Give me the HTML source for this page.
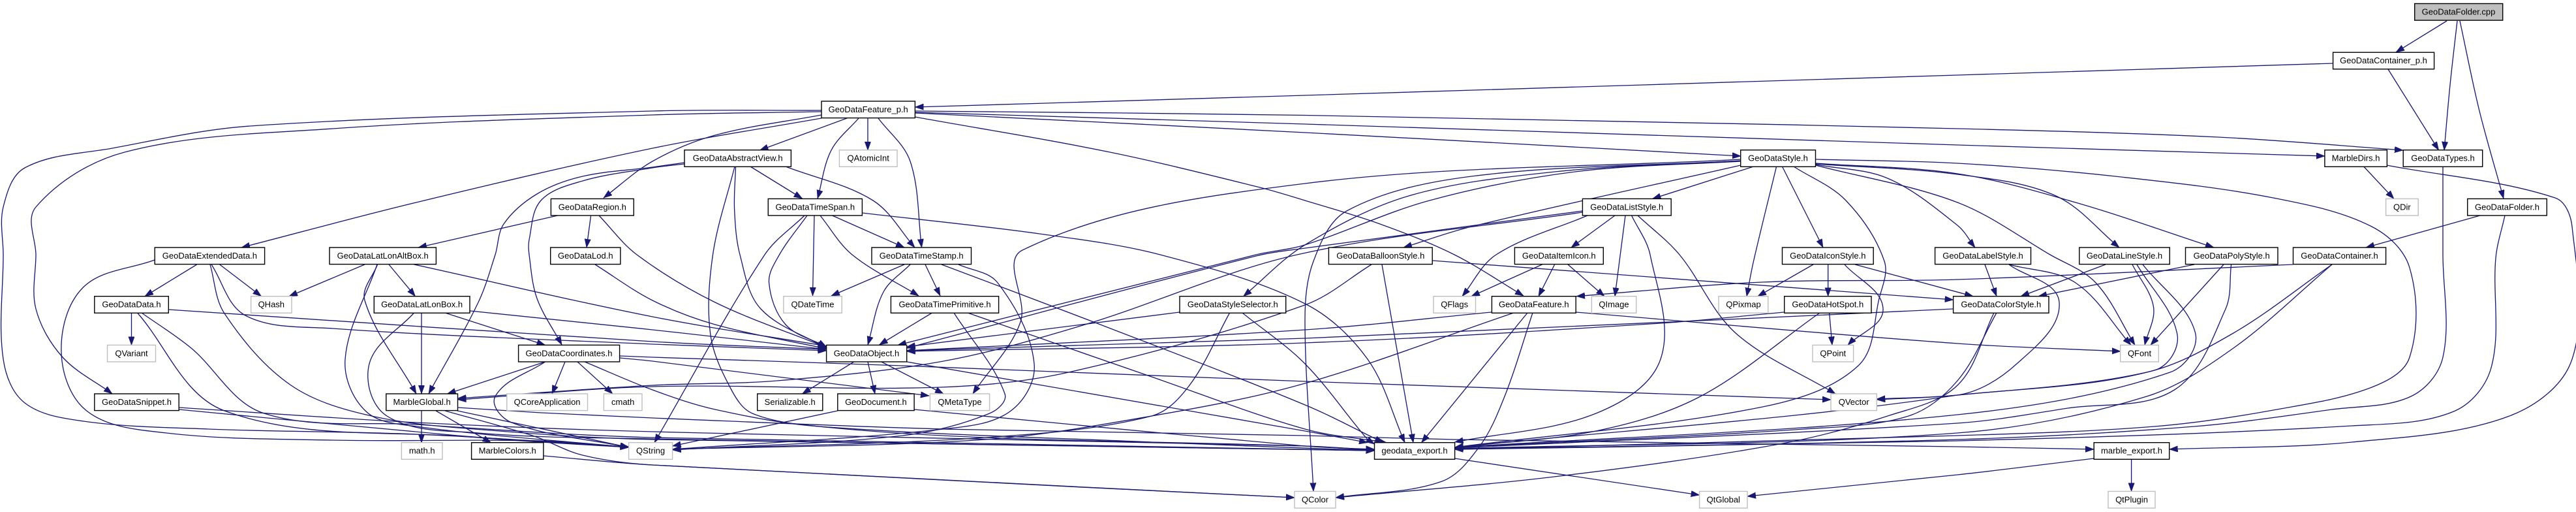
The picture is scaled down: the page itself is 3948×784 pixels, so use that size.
<!DOCTYPE html>
<html><head><meta charset="utf-8"><title>GeoDataFolder.cpp include graph</title>
<style>
html,body{margin:0;padding:0;background:#fff;width:3948px;height:784px;overflow:hidden}
svg{display:block}
text{font-family:"Liberation Sans",sans-serif;font-size:13px;text-anchor:middle;fill:#000}
.n rect{fill:#fff;stroke:#000;stroke-width:1.4}
.g rect{fill:#fff;stroke:#bfbfbf;stroke-width:1.4}
#e path{fill:none;stroke:#191970;stroke-width:1.33;marker-end:url(#a)}
</style></head><body>
<svg xmlns="http://www.w3.org/2000/svg" width="3948" height="784" viewBox="0 0 3948 784">
<defs><marker id="a" markerUnits="userSpaceOnUse" markerWidth="14" markerHeight="10" refX="13" refY="4.7" orient="auto"><path d="M0,0L13,4.7L0,9.4z" fill="#191970" stroke="#191970" stroke-width=".6"/></marker></defs>
<g id="e"></g>
<g class="n">
<rect x="3700.7" y="5.5" width="135" height="25.6" style="fill:#bfbfbf"/><text x="3768" y="22.5">GeoDataFolder.cpp</text>
<rect x="3575.6" y="80.2" width="155" height="25.6"/><text x="3653" y="97.2">GeoDataContainer_p.h</text>
<rect x="1259" y="155" width="143.4" height="25.6"/><text x="1330.7" y="172">GeoDataFeature_p.h</text>
<rect x="1049" y="229.7" width="163.4" height="25.6"/><text x="1130.7" y="246.7">GeoDataAbstractView.h</text>
<rect x="2667.7" y="229.7" width="114.8" height="25.6"/><text x="2725" y="246.7">GeoDataStyle.h</text>
<rect x="3562.9" y="229.7" width="95.5" height="25.6"/><text x="3610.6" y="246.7">MarbleDirs.h</text>
<rect x="3683.2" y="229.7" width="121.5" height="25.6"/><text x="3744" y="246.7">GeoDataTypes.h</text>
<rect x="844.4" y="304.4" width="126.9" height="25.6"/><text x="907.8" y="321.4">GeoDataRegion.h</text>
<rect x="1177.3" y="304.4" width="144.1" height="25.6"/><text x="1249.3" y="321.4">GeoDataTimeSpan.h</text>
<rect x="2425.4" y="304.4" width="135.8" height="25.6"/><text x="2493.3" y="321.4">GeoDataListStyle.h</text>
<rect x="3781.7" y="304.4" width="121.6" height="25.6"/><text x="3842.5" y="321.4">GeoDataFolder.h</text>
<rect x="237.2" y="379" width="168.4" height="25.6"/><text x="321.4" y="396">GeoDataExtendedData.h</text>
<rect x="505" y="379" width="163.4" height="25.6"/><text x="586.7" y="396">GeoDataLatLonAltBox.h</text>
<rect x="843.7" y="379" width="107.2" height="25.6"/><text x="897.3" y="396">GeoDataLod.h</text>
<rect x="1336" y="379" width="152.5" height="25.6"/><text x="1412.2" y="396">GeoDataTimeStamp.h</text>
<rect x="2036.4" y="379" width="158.8" height="25.6"/><text x="2115.8" y="396">GeoDataBalloonStyle.h</text>
<rect x="2321.4" y="379" width="135.9" height="25.6"/><text x="2389.3" y="396">GeoDataItemIcon.h</text>
<rect x="2731.5" y="379" width="139.7" height="25.6"/><text x="2801.3" y="396">GeoDataIconStyle.h</text>
<rect x="2965.6" y="379" width="146.9" height="25.6"/><text x="3039" y="396">GeoDataLabelStyle.h</text>
<rect x="3186.8" y="379" width="138.5" height="25.6"/><text x="3256" y="396">GeoDataLineStyle.h</text>
<rect x="3349.5" y="379" width="141.5" height="25.6"/><text x="3420.2" y="396">GeoDataPolyStyle.h</text>
<rect x="3514.5" y="379" width="142.1" height="25.6"/><text x="3585.5" y="396">GeoDataContainer.h</text>
<rect x="144.8" y="453.7" width="113.5" height="25.6"/><text x="201.5" y="470.7">GeoDataData.h</text>
<rect x="573.3" y="453.7" width="146.7" height="25.6"/><text x="646.6" y="470.7">GeoDataLatLonBox.h</text>
<rect x="1365.4" y="453.7" width="165.2" height="25.6"/><text x="1448" y="470.7">GeoDataTimePrimitive.h</text>
<rect x="1808" y="453.7" width="162.7" height="25.6"/><text x="1889.3" y="470.7">GeoDataStyleSelector.h</text>
<rect x="2286.4" y="453.7" width="128.8" height="25.6"/><text x="2350.8" y="470.7">GeoDataFeature.h</text>
<rect x="2734.7" y="453.7" width="133.3" height="25.6"/><text x="2801.3" y="470.7">GeoDataHotSpot.h</text>
<rect x="2993.6" y="453.7" width="146.4" height="25.6"/><text x="3066.8" y="470.7">GeoDataColorStyle.h</text>
<rect x="794.6" y="528.4" width="155" height="25.6"/><text x="872" y="545.4">GeoDataCoordinates.h</text>
<rect x="1266.6" y="528.4" width="123.1" height="25.6"/><text x="1328" y="545.4">GeoDataObject.h</text>
<rect x="144.8" y="603" width="129.4" height="25.6"/><text x="209.5" y="620">GeoDataSnippet.h</text>
<rect x="591.8" y="603" width="109.7" height="25.6"/><text x="646.6" y="620">MarbleGlobal.h</text>
<rect x="1160.7" y="603" width="100.1" height="25.6"/><text x="1210.7" y="620">Serializable.h</text>
<rect x="1283.8" y="603" width="117.3" height="25.6"/><text x="1342.4" y="620">GeoDocument.h</text>
<rect x="722.6" y="677.7" width="110.3" height="25.6"/><text x="777.7" y="694.7">MarbleColors.h</text>
<rect x="2106.5" y="677.7" width="123.1" height="25.6"/><text x="2168" y="694.7">geodata_export.h</text>
<rect x="3209.2" y="677.7" width="115.5" height="25.6"/><text x="3267" y="694.7">marble_export.h</text>
</g>
<g class="g">
<rect x="1286.4" y="229.7" width="88.6" height="25.6"/><text x="1330.7" y="246.7">QAtomicInt</text>
<rect x="3656.6" y="304.4" width="49.6" height="25.6"/><text x="3681.4" y="321.4">QDir</text>
<rect x="384.6" y="453.7" width="62.4" height="25.6"/><text x="415.8" y="470.7">QHash</text>
<rect x="1200.9" y="453.7" width="89.3" height="25.6"/><text x="1245.5" y="470.7">QDateTime</text>
<rect x="2197" y="453.7" width="64.5" height="25.6"/><text x="2229.2" y="470.7">QFlags</text>
<rect x="2439.4" y="453.7" width="68.3" height="25.6"/><text x="2473.5" y="470.7">QImage</text>
<rect x="2634" y="453.7" width="75.8" height="25.6"/><text x="2672" y="470.7">QPixmap</text>
<rect x="164.5" y="528.4" width="74" height="25.6"/><text x="201.5" y="545.4">QVariant</text>
<rect x="2778" y="528.4" width="62.6" height="25.6"/><text x="2809.3" y="545.4">QPoint</text>
<rect x="3249.7" y="528.4" width="58.6" height="25.6"/><text x="3279" y="545.4">QFont</text>
<rect x="776.8" y="603" width="123.7" height="25.6"/><text x="838.6" y="620">QCoreApplication</text>
<rect x="925.4" y="603" width="58.6" height="25.6"/><text x="954.7" y="620">cmath</text>
<rect x="1425.4" y="603" width="91.2" height="25.6"/><text x="1471" y="620">QMetaType</text>
<rect x="2806" y="603" width="70.3" height="25.6"/><text x="2841.2" y="620">QVector</text>
<rect x="615.4" y="677.7" width="62.6" height="25.6"/><text x="646.7" y="694.7">math.h</text>
<rect x="963.6" y="677.7" width="67" height="25.6"/><text x="997.1" y="694.7">QString</text>
<rect x="1984" y="752.4" width="63" height="25.6"/><text x="2015.5" y="769.4">QColor</text>
<rect x="2604.6" y="752.4" width="73.4" height="25.6"/><text x="2641.3" y="769.4">QtGlobal</text>
<rect x="3231" y="752.4" width="72" height="25.6"/><text x="3267" y="769.4">QtPlugin</text>
</g>
</svg>
<script>
var E=[
[3750,32,3672,80],[3766,32,3755,130,3746,230],[3770,32,3800,170,3837,304],
[3575.6,97,3000,115,2000,146,1402.4,164],[3660,106,3737.6,230],
[1402,170,2000,176.5,3000,197,3400,210,3683,230],[1402,172,2000,190,3000,222,3563,239],[1402,173,2000,203,2668,239],
[1402,179,1701,233,1931,287,2000,307,2115,343,2229,390,2335,453],
[1259,181,1000,227,638,310,370,379],[1259,176,1096,207,1000,247,925,303],
[1259,169,1000,170,383,193,172,227,38,257,5,317,5,390,5,550,38,617,128,645,319,657,638,665,963.6,684],
[1259,171,1000,176,510,197,191,233,55,317,55,390,55,473,96,547,172,603],
[1298,181,1164.5,230],[1316,181,1274,230,1253,304],[1330,181,1330,230],[1346,181,1395,247,1412.6,379],
[1150,255,1229.6,304],[1204,255,1338,307,1402,379],
[1049,249,1000,256,893,270,823,297,772,343,759,390,733,463,657,603],
[1049,251,1000,257,893,277,829,307,811,367,811,390,823,457,861,528],
[1127.5,255,1125.6,320,1134,390,1166,473,1266.6,533],
[1126,255,1092.5,390,1089,513,1121,597,1153,633,1255,653,1510,670,2000,683,2106.5,690],
[1275.5,330,1386,379],[1257,330,1306,390,1408,453],[1248,330,1245.5,453],
[1237,330,1194.5,390,1178.6,433,1204,497,1266.6,531],[1233,330,1172,390,1003,677.7],
[1321.4,326,1593,358,1778,390,2000,465,2096,550,2153,677.7],
[1386,405,1274,453],[1395,405,1354,447,1330,528],[1418,405,1441,453],
[1469,405,1529,433,1585,557,1548,630,1446,657,1030.6,688],
[1443,405,1676,493,2000,620,2120,677.7],
[1428.6,479,1347.6,528],[1462,479,1540,603,1516.6,633,1383,667,1030.6,689],[1483,479,1765,577,2000,657,2125,677.7],
[1308.7,554,1229.6,603],[1330,554,1341,603],[1350.8,554,1446,603],[1389.7,554,2000,660,2096,677.7],
[1283.8,629,1030.6,683],[1401,627,2000,683,2106.5,688],
[2286,478,2000,505,1389.7,537],[2320,479,2000,587,1765,637,1510,673,1030.6,688],[2341,479,2178.6,677.7],
[2349,479,2306,607,2268,683,2210,737,2047,762],[2415,478,3000,526,3250,538],
[2687.5,255,2532.5,304.4],[2668,253,2255,347,2151,379],
[2668,246,2383,263,2159,300,2000,375,1905.6,453.7],
[2668,247,2414,263,2191,307,2000,375,1925,390,1376,528.4],
[2722.6,255,2687.5,400,2677,453.7],[2731.5,255,2794,379],
[2749,255,2829,307,2888,400,2880,457,2848,560,2701.5,623,2229.6,685],
[2782.5,252,2893,273,3000,345,3027,379],[2782.5,251,3000,267,3151,300,3248,379],[2782.5,250,3000,266,3181,310,3393,379],
[2782.5,244,3000,250,3242,270,3484,303,3635,347,3693,410,3693,547,3635,593,3484,628,3302,653,3000,667,2229.6,688],
[2782.5,253,3000,310,3142,390,3212,433,3272,528.4],
[2668,244,2000,281,1567,383,1564,493,1491,603],
[2668,246,2255,270,2064,323,2013,400,2000,490,2013,752.4],
[2195,399,2993.6,459],[2118,405,2166,677.7],
[2102,405,2000,467,1638,570,1440,593,1000,592,701.5,612],
[2425.4,323,2000,380,1925,392,1389.7,533],
[2425.4,325,1988,390,1663,497,1446,553,1191,583,1000,590,701.5,610],
[2433,330,2293,390,2241,453.7],[2475,330,2408,379],[2491,330,2475,453.7],
[2510,330,2574,390,2660,510,2813,603],[2500.6,330,2529,390,2545,550,2446,633,2229.6,677],
[2363.5,405,2255,453.7],[2382.6,405,2358,453.7],[2403,405,2459,453.7],
[2779,405,2694,453.7],[2801.7,405,2801.7,453.7],[2827,405,2886,473,2832,528.4],[2843,405,3024,453.7],
[2803.6,479,2808,528.4],[2734.7,478,2545,495,2000,525,1389.7,538],[2789,479,2606,607,2446,660,2229.6,685],
[2993.6,473,2000,518,1389.7,537],[3060,479,3000,583,2925,637,2765,657,2229.6,685],
[3056,479,3000,590,2893,637,2727,680,2382,730,2047,762],
[3042,405,3060,453.7],[3079,405,3181,433,3266,528.4],[3079,405,3156,463,3091,557,3000,605,2229.6,685],
[3227,405,3097,453.7],[3268,405,3300.5,470,3287,528.4],[3275,405,3337,513,3302,567,3000,605,2876.3,612],
[3284,405,3364.6,510,3326,570,3000,635,2229.6,685],
[3363,405,3124,453.7],[3408,405,3296,528.4],[3419.6,405,3411,473,3332.5,597,3169,625,3000,648,2229.6,686],
[3514.5,405,3000,428,2701.5,432,2416,453.7],[3574,405,3423,510,3290,570,3000,605,2876.3,611],
[3574,405,3423,533,3290,607,3000,663,2229.6,687],
[3801,330,3626,379],[3839,330,3825,395,3818,563,3760.6,630,3604.6,652,3000,675,2229.6,688],
[3744,255,3744,390,3744,547,3695,607,3574,627,3363,653,3000,673,2229.6,688],
[3622.7,255,3669,304.4],[3658,253,3916,303,3942,347,3942,550,3846,637,3604.6,677,3324.7,688],
[3266.6,703,3266.6,752.4],[3209,702,3000,727,2678,760],[2229.6,702,2604.6,758],
[701.5,624,829,632,1000,640,1446,657,2000,667,2229.6,673,3000,684,3209,688],
[646,629,646,678],[668,629,752.6,678],[701,629,963.6,685],
[682,629,816,667,893,697,1000,712,1984,762],[833,698,1000,712,1984,762],
[835.5,554,685.6,603],[866,554,846,603],[885,554,939,603],
[835.5,554,759,607,784,647,963.6,685],
[949.6,545,1000,547,1383,560,2000,584,2806,612],[950,548,1000,553,1424,606],
[896,554,1000,597,1096,627,1255,653,1765,677,2106.5,690],
[559,405,443,453.7],[596,405,636.5,453.7],[578.5,405,559,460,638,603],
[634.6,405,1000,485,1266.6,530],[578,405,529,550,561,630,638,653,963.6,685],
[646,479,646,603],[682,479,835.5,528.4],[720,476,1000,505,1266.6,535],
[634.6,479,566,557,593,637,733,663,1000,672,2106.5,690],
[301.7,405,222,453.7],[336.7,405,400.5,453.7],
[324,405,376,483,510,503,1000,527,1266.6,537],
[237,398,127.5,440,94,540,134,630,255,663,510,674,829,675,963.6,685],
[322,405,344,480,446,590,574,638,765,660,1000,673,2106.5,690],
[201.5,479,201.5,528.4],[258,474,1000,523,1266.6,535],
[210.5,479,344,629,733,670,963.6,685],[217,479,293,533,402,632,638,650,1000,670,2106.5,690],
[274,627,701.5,667,963.6,685],[274,624,638,647,1000,661,2000,683,2106.5,689],
[854.6,330,641,379],[905.6,330,899,379],[918,330,976,390,1096,463,1266.6,532],
[912,405,1000,460,1096,497,1266.6,534],
[1808,478,1389.7,531],[1884.6,479,1823,590,1765,637,1510,670,1030.6,688],[1904,479,2000,557,2096,673,2106.5,680]
];
function P(a){var n=a.length/2,p=[];for(var i=0;i<n;i++)p.push([a[2*i],a[2*i+1]]);
if(n==2)return'M'+p[0]+'L'+p[1];
function t(i){var A=p[Math.max(i-1,0)],B=p[Math.min(i+1,n-1)],x=B[0]-A[0],y=B[1]-A[1],l=Math.hypot(x,y)||1;return[x/l,y/l]}
var d='M'+p[0];
for(var i=0;i<n-1;i++){var a0=p[i],b=p[i+1],L=Math.hypot(b[0]-a0[0],b[1]-a0[1])/3,u=t(i),v=t(i+1);
d+='C'+(a0[0]+u[0]*L).toFixed(1)+' '+(a0[1]+u[1]*L).toFixed(1)+' '+(b[0]-v[0]*L).toFixed(1)+' '+(b[1]-v[1]*L).toFixed(1)+' '+b[0]+' '+b[1];}
return d}
var g=document.getElementById('e');
E.forEach(function(a){var q=document.createElementNS('http://www.w3.org/2000/svg','path');q.setAttribute('d',P(a));g.appendChild(q)});
</script>
</body></html>
